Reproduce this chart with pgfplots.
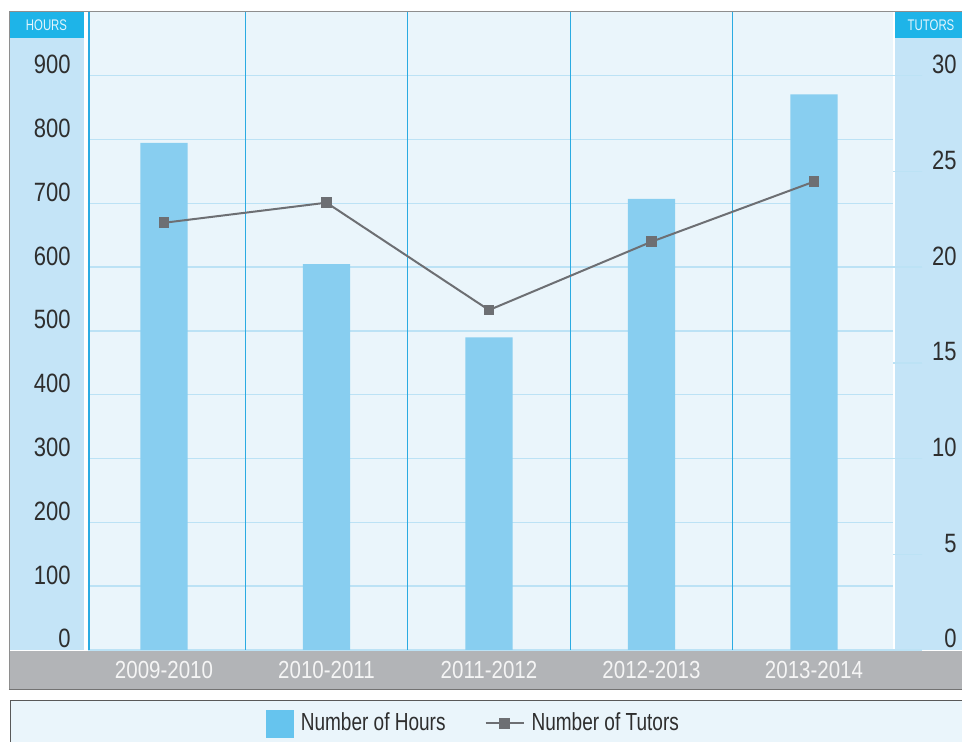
\documentclass[border=0pt]{standalone}
\usepackage{pgfplots}
\pgfplotsset{compat=1.18}
\usepackage{fontspec}
\setmainfont{Liberation Sans}[FakeStretch=0.83]
\newfontfamily\condfont{Liberation Sans}[FakeStretch=0.77]
\newfontfamily\hdrfont{Liberation Sans}[FakeStretch=0.74]
\definecolor{barcol}{HTML}{88CEF0}
\definecolor{legbar}{HTML}{66C4EE}
\definecolor{plotbg}{HTML}{EAF5FB}
\definecolor{sidebg}{HTML}{C4E4F7}
\definecolor{headbg}{HTML}{1EB4E8}
\definecolor{gridc}{HTML}{BCE2F5}
\definecolor{vline}{HTML}{2AABE2}
\definecolor{band}{HTML}{B2B4B7}
\definecolor{linec}{HTML}{6D6F73}
\definecolor{txt}{HTML}{2E2E2E}
\definecolor{framec}{HTML}{8E8E8E}
\definecolor{hdrtxt}{HTML}{E2F5FD}
\pgfplotsset{/pgf/number format/assume math mode=true}
\begin{document}
\begin{tikzpicture}
\begin{scope}[x=0.5pt,y=-0.5pt,shift={(-44pt,325pt)}]
\path[use as bounding box] (0,0) rectangle (962,742);
\fill[white] (0,0) rectangle (962,742);
\fill[sidebg] (9,11) rectangle (84,650);
\fill[sidebg] (895,11) rectangle (962,650);
\fill[plotbg] (88,11) rectangle (893,650);
\fill[headbg] (9,11) rectangle (84,38);
\fill[headbg] (895,11) rectangle (962,38);
\fill[band] (9,651) rectangle (962,689);
\draw[framec, line width=0.6pt] (962,11.3) -- (9.3,11.3) -- (9.3,689.5);
\draw[black!55, line width=0.7pt] (9,689.3) -- (962,689.3);
\fill[plotbg] (10,700) rectangle (962,742);
\draw[black!65, line width=0.8pt] (10.4,742) -- (10.4,700.7) -- (962,700.7);
\node[text=hdrtxt, font=\hdrfont\fontsize{7.7}{9}\selectfont, inner sep=0pt] at (46.5,25) {HOURS};
\node[text=hdrtxt, font=\hdrfont\fontsize{7.7}{9}\selectfont, inner sep=0pt] at (931,25) {TUTORS};
\end{scope}
\begin{axis}[
  at={(0,0)}, anchor=south west,
  scale only axis, width=402.5pt, height=319pt,
  xmin=-0.4677, xmax=4.4862, ymin=0, ymax=1000,
  axis line style={draw=none},
  xtick={0,1,2,3,4},
  xticklabels={2009-2010,2010-2011,2011-2012,2012-2013,2013-2014},
  xtick style={draw=none},
  xticklabel style={anchor=base, yshift=-14.5pt, inner sep=0pt, text=white!96!black, font=\fontsize{12.35}{14}\selectfont},
  extra x ticks={-0.4615,0.5,1.5,2.5,3.5},
  extra x tick labels={},
  extra x tick style={xmajorgrids=true, major grid style={vline, line width=0.65pt}, xtick style={draw=none}},
  ytick={0,100,...,900},
  ymajorgrids=true,
  major grid style={gridc, line width=0.7pt},
  ytick style={draw=none},
  yticklabel style={anchor=base east, inner sep=0pt, xshift=-8.5pt, yshift=1pt, text=txt, font=\fontsize{13.25}{15}\selectfont},
]
\addplot[ybar, fill=barcol, draw=none, bar width=0.29, bar shift=0pt] coordinates {(0,795) (1,605) (2,490) (3,707) (4,871)};
\end{axis}
\begin{axis}[
  at={(0,0)}, anchor=south west,
  scale only axis, width=402.5pt, height=319pt,
  xmin=-0.4677, xmax=4.4862, ymin=0, ymax=33.333,
  hide x axis,
  axis y line*=right,
  y axis line style={draw=none},
  ytick={0,5,...,30},
  tick align=outside,
  major tick length=14.5pt,
  ytick style={gridc, line width=0.7pt},
  yticklabel style={anchor=base east, inner sep=0pt, xshift=17.5pt, yshift=1pt, text=txt, font=\fontsize{13.25}{15}\selectfont},
  legend columns=2,
  legend cell align=left,
  legend style={draw=none, fill=none, inner sep=0pt, outer sep=0pt, anchor=west, at={(0.2211,-0.1152)},
    font=\condfont\fontsize{12.35}{14}\selectfont, text=txt,
    nodes={inner sep=0pt},
    /tikz/every odd column/.append style={column sep=3.5pt},
    /tikz/every even column/.append style={column sep=19.5pt}},
]
\addlegendimage{legend image code/.code={\fill[legbar] (0pt,-6.75pt) rectangle (13.5pt,6.75pt);}}
\addlegendentry{Number of Hours}
\addplot[linec, line width=1pt, mark=square*, mark size=2.2pt, mark options={fill=linec, draw=none},
  legend image code/.code={\draw[linec, line width=1pt, mark=square*, mark size=2.2pt, mark options={fill=linec, draw=none}, mark repeat=2, mark phase=2] plot coordinates {(0pt,0pt) (9.5pt,0pt) (19pt,0pt)};}]
  coordinates {(0,22.32) (1,23.37) (2,17.76) (3,21.33) (4,24.47)};
\addlegendentry{Number of Tutors}
\end{axis}
\end{tikzpicture}
\end{document}
